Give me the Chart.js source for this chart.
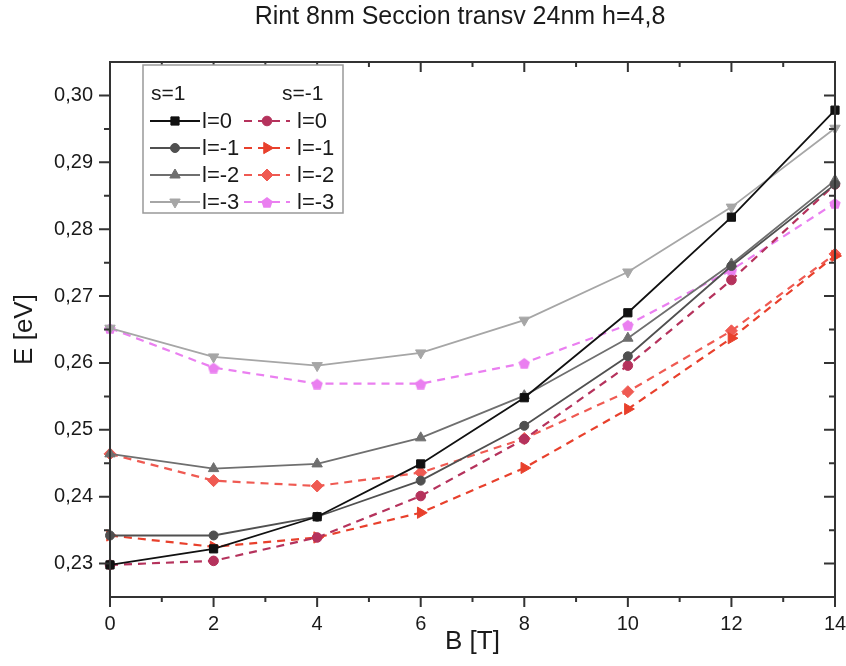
<!DOCTYPE html>
<html>
<head>
<meta charset="utf-8">
<script src="https://cdn.jsdelivr.net/npm/chart.js@4/dist/chart.umd.min.js"></script>
<style>
  html, body { margin: 0; padding: 0; background: #fff; }
</style>
</head>
<body>
<canvas id="energyChart" width="846" height="666"></canvas>
<script>
// Campo magnetico B [T]
const fieldB = [0, 2, 4, 6, 8, 10, 12, 14];

// Energias E [eV], s=1
const s1_l0  = [0.2298, 0.2322, 0.2370, 0.2449, 0.2548, 0.2675, 0.2818, 0.2978];
const s1_lm1 = [0.2342, 0.2342, 0.2370, 0.2424, 0.2506, 0.2610, 0.2745, 0.2867];
const s1_lm2 = [0.2464, 0.2442, 0.2449, 0.2488, 0.2551, 0.2637, 0.2748, 0.2873];
const s1_lm3 = [0.2652, 0.2609, 0.2596, 0.2615, 0.2664, 0.2736, 0.2833, 0.2951];

// Energias E [eV], s=-1
const sm1_l0  = [0.2298, 0.2304, 0.2339, 0.2401, 0.2486, 0.2596, 0.2724, 0.2867];
const sm1_lm1 = [0.2342, 0.2325, 0.2339, 0.2376, 0.2443, 0.2531, 0.2637, 0.2760];
const sm1_lm2 = [0.2464, 0.2424, 0.2416, 0.2436, 0.2487, 0.2557, 0.2648, 0.2763];
const sm1_lm3 = [0.2652, 0.2593, 0.2569, 0.2569, 0.2600, 0.2657, 0.2739, 0.2839];

const lLabels = ["l=0", "l=-1", "l=-2", "l=-3"];
const xTicks = [0, 2, 4, 6, 8, 10, 12, 14];
const xMinor = [1, 3, 5, 7, 9, 11, 13];
const yTicks = [0.23, 0.24, 0.25, 0.26, 0.27, 0.28, 0.29, 0.30];
const yMinor = [0.235, 0.245, 0.255, 0.265, 0.275, 0.285, 0.295];

const FONT = "'Liberation Sans', Arial, sans-serif";
const INK = "#1a1a1a";

// pentagono para l=-3, s=-1
function pentagon(color, size) {
    let c = document.createElement("canvas");
    c.width = size; c.height = size;
    let g = c.getContext("2d");
    let r = size / 2;
    g.fillStyle = color;
    g.beginPath();
    for (let i = 0; i < 5; i++) {
        let a = -Math.PI / 2 + i * 2 * Math.PI / 5;
        g.lineTo(r + r * Math.cos(a), r + 1 + r * Math.sin(a));
    }
    g.closePath();
    g.fill();
    return c;
}

function serie(label, data, color, style, rotation, dashed, radius) {
    return {
        label: label,
        data: data.map((e, i) => ({ x: fieldB[i], y: e })),
        borderColor: color,
        backgroundColor: color,
        borderWidth: dashed ? 2.2 : 1.8,
        borderDash: dashed ? [8, 6] : [],
        pointStyle: style,
        rotation: rotation,
        pointRadius: radius,
        pointBorderWidth: 1,
        pointBorderColor: color,
        pointBackgroundColor: color,
        tension: 0,
        clip: false
    };
}

const datasets = [
    serie(lLabels[0], s1_l0,  "#111111", "rect", 0, false, 5.8),
    serie(lLabels[1], s1_lm1, "#505050", "circle", 0, false, 4.5),
    serie(lLabels[2], s1_lm2, "#6f6f6f", "triangle", 0, false, 6),
    serie(lLabels[3], s1_lm3, "#a6a6a6", "triangle", 180, false, 6),
    serie(lLabels[0], sm1_l0,  "#b5325c", "circle", 0, true, 4.8),
    serie(lLabels[1], sm1_lm1, "#e8402c", "triangle", 90, true, 6.5),
    serie(lLabels[2], sm1_lm2, "#ef5a52", "rectRot", 0, true, 6),
    serie(lLabels[3], sm1_lm3, "#ea7ff0", pentagon("#ea7ff0", 12), 0, true, 6)
];

// Marco, marcas, titulo y leyenda
const framePlugin = {
    id: "frame",
    afterDraw(chart) {
        const ctx = chart.ctx;
        const a = chart.chartArea;
        const xs = chart.scales.x, ys = chart.scales.y;
        ctx.save();
        ctx.strokeStyle = "#333";
        ctx.lineWidth = 2;
        ctx.strokeRect(a.left, a.top, a.right - a.left, a.bottom - a.top);

        ctx.beginPath();
        xTicks.forEach(v => {
            let p = xs.getPixelForValue(v);
            ctx.moveTo(p, a.bottom); ctx.lineTo(p, a.bottom + 10);
            ctx.moveTo(p, a.top); ctx.lineTo(p, a.top + 10);
        });
        xMinor.forEach(v => {
            let p = xs.getPixelForValue(v);
            ctx.moveTo(p, a.bottom); ctx.lineTo(p, a.bottom + 5);
            ctx.moveTo(p, a.top); ctx.lineTo(p, a.top + 5);
        });
        yTicks.forEach(v => {
            let p = ys.getPixelForValue(v);
            ctx.moveTo(a.left, p); ctx.lineTo(a.left - 11, p);
            ctx.moveTo(a.right, p); ctx.lineTo(a.right - 11, p);
        });
        yMinor.forEach(v => {
            let p = ys.getPixelForValue(v);
            ctx.moveTo(a.left, p); ctx.lineTo(a.left - 6, p);
            ctx.moveTo(a.right, p); ctx.lineTo(a.right - 6, p);
        });
        ctx.stroke();

        // titulo
        ctx.fillStyle = INK;
        ctx.font = "25px " + FONT;
        ctx.textAlign = "center";
        ctx.textBaseline = "middle";
        ctx.fillText("Rint 8nm Seccion transv 24nm h=4,8", 460, 17);

        // leyenda
        ctx.fillStyle = "#fff";
        ctx.fillRect(143, 65, 200, 148);
        ctx.strokeStyle = "#999";
        ctx.lineWidth = 1.5;
        ctx.strokeRect(143, 65, 200, 148);

        ctx.fillStyle = INK;
        ctx.font = "21px " + FONT;
        ctx.textAlign = "left";
        ctx.fillText("s=1", 151, 94);
        ctx.fillText("s=-1", 282, 94);

        const rows = [121, 148, 175, 202];
        const cols = [{ x0: 150, x1: 200, m: 175, t: 202 }, { x0: 244, x1: 290, m: 267, t: 297 }];
        chart.data.datasets.forEach((ds, i) => {
            let col = cols[Math.floor(i / 4)];
            let y = rows[i % 4];
            ctx.save();
            ctx.strokeStyle = ds.borderColor;
            ctx.lineWidth = ds.borderWidth;
            ctx.setLineDash(ds.borderDash);
            ctx.beginPath();
            ctx.moveTo(col.x0, y); ctx.lineTo(col.x1, y);
            ctx.stroke();
            ctx.setLineDash([]);
            ctx.fillStyle = ds.pointBackgroundColor;
            ctx.strokeStyle = ds.pointBorderColor;
            ctx.lineWidth = 1;
            Chart.helpers.drawPoint(ctx, {
                pointStyle: ds.pointStyle, rotation: ds.rotation,
                radius: ds.pointRadius, borderWidth: 1
            }, col.m, y);
            ctx.restore();
            ctx.fillStyle = INK;
            ctx.font = "22px " + FONT;
            ctx.textBaseline = "middle";
            ctx.fillText(ds.label, col.t, y + 1);
        });
        ctx.restore();
    }
};

let ctx = document.getElementById("energyChart").getContext("2d");
let chart = new Chart(ctx, {
    type: "line",
    data: { datasets: datasets },
    plugins: [framePlugin],
    options: {
        responsive: false,
        animation: false,
        devicePixelRatio: 1,
        layout: { padding: { top: 62, right: 11, left: 0, bottom: 0 } },
        plugins: { legend: { display: false }, tooltip: { enabled: false } },
        scales: {
            x: {
                type: "linear",
                min: 0, max: 14,
                grid: { display: false, drawTicks: false },
                border: { display: false },
                afterBuildTicks: s => { s.ticks = xTicks.map(v => ({ value: v })); },
                afterFit: s => { s.height = 69; s.paddingLeft = 0; s.paddingRight = 0; },
                ticks: {
                    padding: 15,
                    color: INK,
                    font: { family: FONT, size: 20 },
                    maxRotation: 0
                },
                title: {
                    display: true, text: "B [T]", color: INK,
                    font: { family: FONT, size: 26 },
                    padding: { top: 0, bottom: 9 }
                }
            },
            y: {
                type: "linear",
                min: 0.225, max: 0.305,
                grid: { display: false, drawTicks: false },
                border: { display: false },
                afterBuildTicks: s => { s.ticks = yTicks.map(v => ({ value: v })); },
                afterFit: s => { s.width = 110; s.paddingTop = 0; s.paddingBottom = 0; },
                ticks: {
                    padding: 17,
                    color: INK,
                    font: { family: FONT, size: 20 },
                    callback: v => v.toFixed(2).replace(".", ",")
                },
                title: {
                    display: true, text: "E [eV]", color: INK,
                    font: { family: FONT, size: 26 },
                    padding: { top: 9, bottom: 0 }
                }
            }
        }
    }
});
</script>
</body>
</html>
